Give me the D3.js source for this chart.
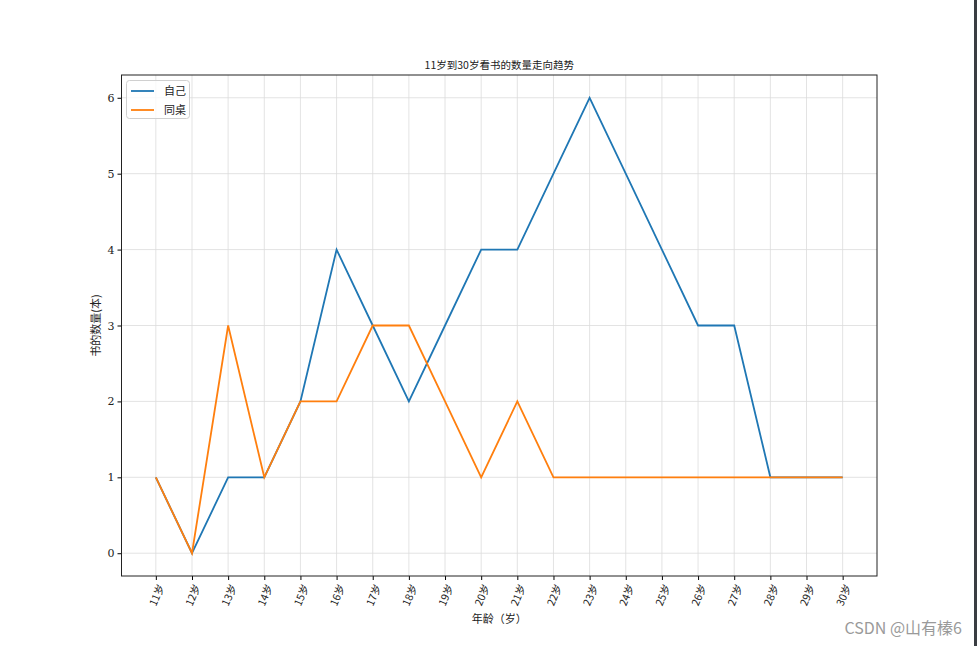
<!DOCTYPE html>
<html><head><meta charset="utf-8">
<script src="https://cdn.jsdelivr.net/npm/d3@7"></script>
<style>
body{margin:0;background:#fff;overflow:hidden;}
text{fill:#222;}
</style>
</head><body>
<svg id="c" width="977" height="646"></svg>
<script>
const ages = [11,12,13,14,15,16,17,18,19,20,21,22,23,24,25,26,27,28,29,30];
const tickLabels = ages.map(a => a + "岁");
const selfValues = [1,0,1,1,2,4,3,2,3,4,4,5,6,5,4,3,3,1,1,1];
const deskValues = [1,0,3,1,2,2,3,3,2,1,2,1,1,1,1,1,1,1,1,1];
const yTicks = [0,1,2,3,4,5,6];
const seriesNames = ["自己","同桌"];
const colors = ["#1f77b4","#ff7f0e"];

const svg = d3.select("#c");
const L=121.5, R=877, T=75, B=576;
const serif = "'DejaVu Serif','Liberation Serif',serif";
const cjk = "'Noto Sans CJK SC',sans-serif";

const x = d3.scaleLinear().domain([-0.95, ages.length-1+0.95]).range([L,R]);
const y = d3.scaleLinear().domain([-0.3,6.3]).range([B,T]);

// grid
svg.append("g").selectAll("line").data(ages.map((d,i)=>i)).join("line")
  .attr("x1",d=>x(d)).attr("x2",d=>x(d)).attr("y1",T).attr("y2",B)
  .attr("stroke","#dcdcdc").attr("stroke-width",0.8);
svg.append("g").selectAll("line").data(yTicks).join("line")
  .attr("y1",d=>y(d)).attr("y2",d=>y(d)).attr("x1",L).attr("x2",R)
  .attr("stroke","#dcdcdc").attr("stroke-width",0.8);

// axes
const xAxis = d3.axisBottom(x).tickValues(ages.map((d,i)=>i)).tickFormat(i=>tickLabels[i]).tickSize(4).tickSizeOuter(0);
const gx = svg.append("g").attr("transform",`translate(0,${B})`).call(xAxis);
gx.select(".domain").remove();
gx.selectAll("text").attr("font-family",cjk).attr("font-size",10.5)
  .attr("text-anchor","end").attr("dy","0.35em")
  .attr("transform","translate(5,9) rotate(-67)").attr("x",0).attr("y",0);

const yAxis = d3.axisLeft(y).tickValues(yTicks).tickFormat(d3.format("d")).tickSize(4).tickSizeOuter(0);
const gy = svg.append("g").attr("transform",`translate(${L},0)`).call(yAxis);
gy.select(".domain").remove();
gy.selectAll("text").attr("font-family",serif).attr("font-size",11);

// frame
svg.append("rect").attr("x",L).attr("y",T).attr("width",R-L).attr("height",B-T)
  .attr("fill","none").attr("stroke","#222").attr("stroke-width",1);

// lines
const line = d3.line().x((d,i)=>x(i)).y(d=>y(d));
[selfValues, deskValues].forEach((vals,k)=>{
  svg.append("path").datum(vals).attr("d",line).attr("fill","none")
    .attr("stroke",colors[k]).attr("stroke-width",1.8).attr("stroke-linejoin","miter");
});

// title & labels
svg.append("text").attr("x",(L+R)/2).attr("y",69).attr("text-anchor","middle")
  .attr("font-family",cjk).attr("font-size",10.5).text("11岁到30岁看书的数量走向趋势");
svg.append("text").attr("x",(L+R)/2).attr("y",623).attr("text-anchor","middle")
  .attr("font-family",cjk).attr("font-size",11).text("年龄（岁）");
svg.append("text").attr("transform",`translate(100,${(T+B)/2}) rotate(-90)`).attr("text-anchor","middle")
  .attr("font-family",cjk).attr("font-size",11).text("书的数量(本)");

// legend
const lg = svg.append("g");
lg.append("rect").attr("x",126.5).attr("y",80.5).attr("width",63).attr("height",38).attr("rx",3)
  .attr("fill","#fff").attr("fill-opacity",0.8).attr("stroke","#d0d0d0");
seriesNames.forEach((n,k)=>{
  const yy = 91 + k*19;
  lg.append("line").attr("x1",131).attr("x2",154).attr("y1",yy).attr("y2",yy)
    .attr("stroke",colors[k]).attr("stroke-width",1.8);
  lg.append("text").attr("x",164).attr("y",yy+4).attr("font-family",cjk).attr("font-size",11).text(n);
});

// watermark & right bar
svg.append("text").attr("x",962).attr("y",634).attr("text-anchor","end")
  .attr("font-family","'Noto Sans CJK SC',sans-serif").attr("font-size",16).style("fill","#9a9a9a")
  .text("CSDN @山有榛6");
svg.append("rect").attr("x",974).attr("y",0).attr("width",3).attr("height",646).attr("fill","#3a3d42");
</script>
</body></html>
